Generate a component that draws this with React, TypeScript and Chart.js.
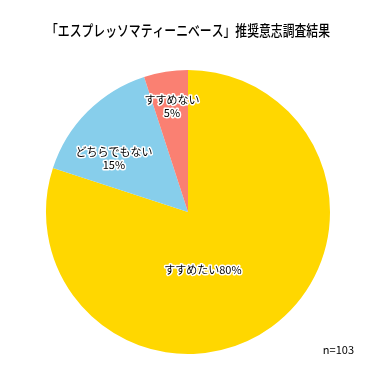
import React, { useEffect, useRef } from "react";
import { Chart, registerables } from "chart.js";

Chart.register(...registerables);

const titleText = "「エスプレッソマティーニベース」推奨意志調査結果";
const categories = ["すすめたい", "どちらでもない", "すすめない"];
const values = [80, 15, 5];
const colors = ["#FFD700", "#87CEEB", "#FA8072"];
const sampleNote = "n=103";

// label placement: angle (deg clockwise from top), radius fraction
const labelPlacement = [
  { angle: 165.5, frac: 0.42, inline: true },
  { angle: 306, frac: 0.645, inline: false },
  { angle: 351.4, frac: 0.755, inline: false },
];

const FONT = "'Noto Sans CJK JP', 'Noto Sans', sans-serif";

const labelPlugin = {
  id: "sliceLabels",
  afterDatasetsDraw(chart: any) {
    const ctx = chart.ctx;
    const meta = chart.getDatasetMeta(0);
    const ds = chart.data.datasets[0];
    const total = (ds.data as number[]).reduce((a: number, b: number) => a + b, 0);
    ctx.save();
    ctx.font = `11px ${FONT}`;
    ctx.textAlign = "center";
    ctx.textBaseline = "middle";
    ctx.lineJoin = "round";
    meta.data.forEach((arc: any, i: number) => {
      const p = labelPlacement[i];
      const a = (p.angle * Math.PI) / 180;
      const r = arc.outerRadius * p.frac;
      const x = arc.x + r * Math.sin(a);
      const y = arc.y - r * Math.cos(a);
      const pct = Math.round(((ds.data[i] as number) / total) * 100) + "%";
      const lines = p.inline
        ? [chart.data.labels[i] + pct]
        : [chart.data.labels[i], pct];
      const lh = 13;
      lines.forEach((t: string, k: number) => {
        const yy = y + (k - (lines.length - 1) / 2) * lh;
        ctx.strokeStyle = "#ffffff";
        ctx.lineWidth = 3;
        ctx.strokeText(t, x, yy);
        ctx.fillStyle = "#000000";
        ctx.fillText(t, x, yy);
      });
    });
    ctx.font = `11px ${FONT}`;
    ctx.textAlign = "right";
    ctx.fillStyle = "#000000";
    ctx.fillText(sampleNote, 354, 350);
    ctx.restore();
  },
};

export default function App() {
  const ref = useRef<HTMLCanvasElement>(null);
  useEffect(() => {
    const chart = new Chart(ref.current!, {
      type: "pie",
      data: {
        labels: categories,
        datasets: [
          {
            data: values,
            backgroundColor: colors,
            borderWidth: 0,
          },
        ],
      },
      options: {
        animation: false,
        responsive: false,
        layout: { padding: { top: 10, left: 46, right: 50, bottom: 26 } },
        plugins: {
          legend: { display: false },
          tooltip: { enabled: false },
          title: {
            display: true,
            text: titleText,
            color: "#000000",
            font: { size: 15, weight: "500", family: FONT, lineHeight: 1.2 },
            padding: { top: 11, bottom: 31 },
          },
        },
      },
      plugins: [labelPlugin],
    });
    return () => chart.destroy();
  }, []);
  return (
    <div style={{ position: "absolute", left: 0, top: 0, width: 380, height: 380, background: "#fff" }}>
      <canvas ref={ref} width={380} height={380} />
    </div>
  );
}
